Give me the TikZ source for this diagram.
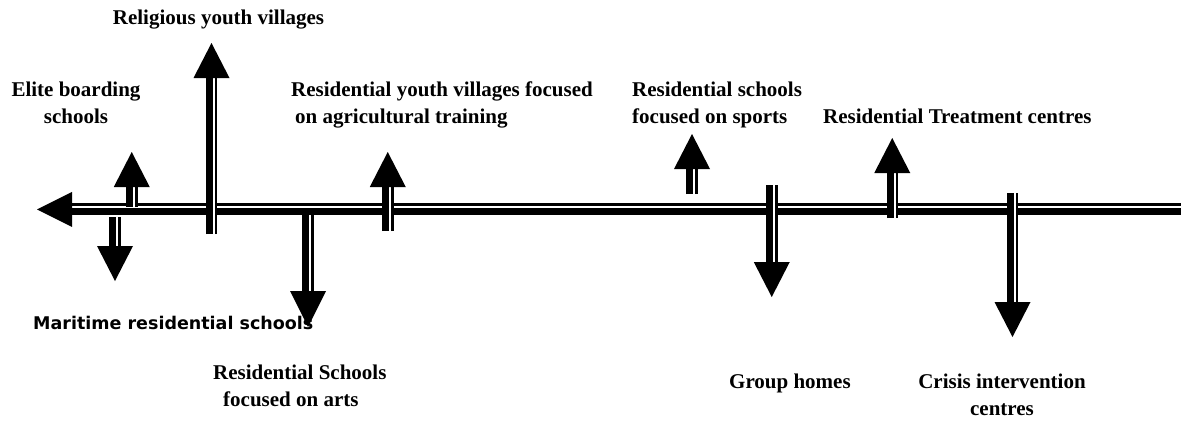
\documentclass[tikz,border=0pt]{standalone}
\usepackage{fontspec}
\setmainfont{Liberation Serif}
\newfontfamily\mfont{DejaVu Sans}
\usetikzlibrary{calc}
\tikzset{
  gapln/.style={white, line width=11.5pt},
  thickln/.style={black, line width=7pt},
  thinln/.style={black, line width=2.5pt},
  headfill/.style={fill=black},
  lbl/.style={inner sep=0pt, font=\fontsize{21}{27}\selectfont\bfseries},
  mlbl/.style={inner sep=0pt, font=\fontsize{17.5}{21}\selectfont\mfont\bfseries},
}
\newcommand\vArrow[5]{%
  \coordinate (#1-s) at (#2,#3);
  \coordinate (#1-b) at (#2,#4);
  \coordinate (#1-t) at (#2,#5);
  \draw[gapln] (#1-s) -- (#1-b);
  \draw[thickln] ([xshift=-2.25pt]#1-s) -- ([xshift=-2.25pt]#1-b);
  \draw[thinln] ([xshift=4.5pt]#1-s) -- ([xshift=4.5pt]#1-b);
  \fill[headfill] ([xshift=-18pt]#1-b) -- ([xshift=18pt]#1-b) -- (#1-t) -- cycle;
}
\begin{document}
\begin{tikzpicture}[x=1pt,y=-1pt]
\useasboundingbox[fill=white] (0,0) rectangle (1181,421);
% main horizontal line
\coordinate (h-e) at (1181,209.4);
\coordinate (h-b) at (72,209.4);
\coordinate (h-t) at (37,209.4);
\draw[black, line width=2.4pt] ([yshift=4.8pt]h-b) -- ([yshift=4.8pt]h-e);
\draw[black, line width=7.5pt] ([yshift=-2.3pt]h-b) -- ([yshift=-2.3pt]h-e);
\fill[headfill] ([yshift=17.5pt]h-b) -- ([yshift=-17.5pt]h-b) -- (h-t) -- cycle;
% branches
\vArrow{elite}{131.75}{207}{187}{152}
\vArrow{marit}{115}{217}{246}{281}
\vArrow{relig}{211.5}{234}{78}{43}
\vArrow{arts}{308}{215}{291}{327}
\vArrow{agri}{387.75}{231}{187}{152}
\vArrow{sport}{692}{194}{169}{134}
\vArrow{group}{771.75}{185}{262}{297}
\vArrow{treat}{892.25}{218}{173}{138}
\vArrow{crisis}{1012.5}{193}{302}{337}
% labels
\node[lbl, anchor=base] (tRelig) at (218.5,24) {Religious youth villages};
\node[lbl, anchor=base] (tElite) at (76,96) {\begin{tabular}[t]{@{}c@{}}Elite boarding\\schools\end{tabular}};
\node[lbl, anchor=base west] (tAgri) at (291,96) {\begin{tabular}[t]{@{}l@{}}Residential youth villages focused\\\hspace*{4pt}on agricultural training\end{tabular}};
\node[lbl, anchor=base west] (tSport) at (632,96) {\begin{tabular}[t]{@{}l@{}}Residential schools\\focused on sports\end{tabular}};
\node[lbl, anchor=base west] (tTreat) at (823,123) {Residential Treatment centres};
\node[mlbl, anchor=base west] (tMarit) at (33,329) {Maritime residential schools};
\node[lbl, anchor=base west] (tArts) at (213,379) {\begin{tabular}[t]{@{}l@{}}Residential Schools\\\hspace*{10pt}focused on arts\end{tabular}};
\node[lbl, anchor=base west] (tGroup) at (729,388) {Group homes};
\node[lbl, anchor=base] (tCrisis) at (1002,388) {\begin{tabular}[t]{@{}c@{}}Crisis intervention\\centres\end{tabular}};
\end{tikzpicture}
\end{document}
